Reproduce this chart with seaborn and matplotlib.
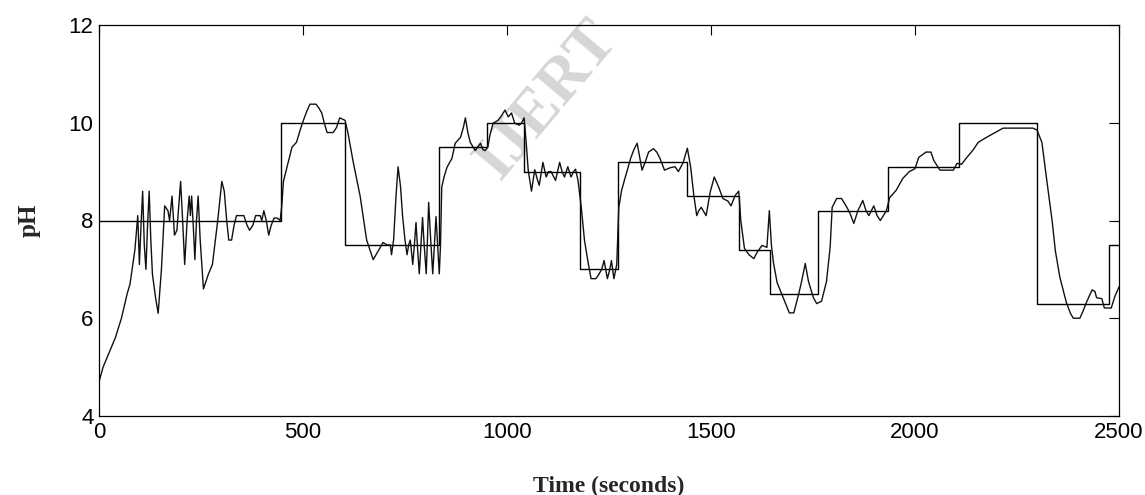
import matplotlib
matplotlib.use("Agg")
import matplotlib.pyplot as plt
import seaborn as sns
import pandas as pd

# ==== data ====
# setpoint (step changes), value holds until next time
sp_time = [0, 446, 603, 833, 951, 1042, 1179, 1272, 1441, 1569, 1645, 1763,
           1935, 2107, 2300, 2475, 2500]
sp_ph = [8.0, 10.0, 7.5, 9.5, 10.0, 9.0, 7.0, 9.2, 8.5, 7.4, 6.5, 8.2,
         9.1, 10.0, 6.3, 7.5, 7.5]

# measured pH response
resp_time = [
    0, 10, 25, 40, 55, 69, 76, 88, 95, 99, 103, 107, 111, 115, 119, 123, 127,
    131, 139, 145, 153, 161, 169, 173, 179, 185, 191, 200, 205, 210, 216, 221,
    224, 227, 231, 235, 239, 243, 248, 256, 268, 278, 291, 301, 307, 313, 318,
    325, 331, 337, 347, 355, 363, 369, 377, 384, 395, 399, 404, 410, 416, 422,
    429, 437, 444, 448, 452, 461, 473, 484, 493, 501, 510, 517, 532, 539, 546,
    552, 559, 574, 582, 590, 603, 610, 623, 640, 656, 664, 672, 679, 686, 696,
    706, 714, 717, 722, 728, 733, 739, 744, 750, 755, 759, 763, 769, 773, 777,
    781, 785, 789, 793, 797, 802, 805, 808, 813, 818, 822, 826, 830, 834, 837,
    840, 846, 853, 865, 873, 886, 893, 898, 904, 910, 922, 928, 935, 941, 946,
    953, 958, 966, 978, 987, 995, 1003, 1011, 1019, 1030, 1036, 1042, 1047,
    1052, 1060, 1068, 1074, 1079, 1088, 1096, 1102, 1108, 1119, 1129, 1135,
    1141, 1149, 1157, 1163, 1168, 1174, 1182, 1190, 1198, 1206, 1218, 1226,
    1232, 1238, 1242, 1246, 1252, 1256, 1262, 1269, 1274, 1281, 1290, 1303,
    1311, 1319, 1325, 1331, 1339, 1347, 1359, 1367, 1375, 1386, 1400, 1412,
    1420, 1432, 1442, 1450, 1458, 1465, 1470, 1476, 1488, 1498, 1508, 1519,
    1529, 1541, 1549, 1559, 1568, 1573, 1582, 1593, 1605, 1613, 1625, 1637,
    1643, 1648, 1653, 1662, 1678, 1692, 1703, 1715, 1722, 1731, 1739, 1751,
    1759, 1771, 1783, 1792, 1797, 1808, 1820, 1833, 1841, 1850, 1860, 1872,
    1880, 1887, 1899, 1907, 1915, 1930, 1938, 1954, 1970, 1986, 2000, 2009,
    2027, 2039, 2046, 2061, 2094, 2103, 2114, 2128, 2143, 2155, 2175, 2192,
    2203, 2216, 2289, 2299, 2311, 2323, 2336, 2344, 2355, 2371, 2381, 2388,
    2404, 2412, 2420, 2434, 2441, 2445, 2458, 2464, 2481, 2490, 2500,
]
resp_ph = [
    4.7, 5.0, 5.3, 5.6, 6.0, 6.5, 6.7, 7.4, 8.1, 7.1, 7.9, 8.6, 7.5, 7.0, 7.9,
    8.6, 7.6, 6.9, 6.4, 6.1, 7.0, 8.3, 8.2, 8.0, 8.5, 7.7, 7.8, 8.8, 8.0, 7.1,
    8.0, 8.5, 8.1, 8.5, 7.9, 7.2, 8.0, 8.5, 7.6, 6.6, 6.9, 7.1, 8.0, 8.8, 8.6,
    8.0, 7.6, 7.6, 7.9, 8.1, 8.1, 8.1, 7.9, 7.8, 7.9, 8.1, 8.1, 8.0, 8.2, 8.0,
    7.7, 7.9, 8.05, 8.05, 8.0, 8.3, 8.8, 9.1, 9.5, 9.6, 9.85, 10.05, 10.25,
    10.38, 10.38, 10.3, 10.2, 10.0, 9.8, 9.8, 9.9, 10.1, 10.05, 9.8, 9.2, 8.5,
    7.6, 7.4, 7.2, 7.3, 7.4, 7.55, 7.5, 7.5, 7.3, 7.6, 8.5, 9.1, 8.7, 8.1, 7.6,
    7.3, 7.5, 7.6, 7.1, 7.5, 7.96, 7.4, 6.91, 7.5, 8.06, 7.5, 6.91, 7.6, 8.37,
    7.6, 6.91, 7.5, 8.08, 7.5, 6.91, 7.5, 8.68, 8.9, 9.09, 9.27, 9.58, 9.7,
    9.9, 10.1, 9.8, 9.6, 9.43, 9.5, 9.58, 9.45, 9.43, 9.5, 9.74, 9.99, 10.05,
    10.15, 10.26, 10.12, 10.2, 9.99, 9.95, 10.0, 10.1, 9.6, 9.03, 8.6, 9.04,
    8.85, 8.72, 9.19, 8.89, 9.0, 9.0, 8.82, 9.19, 9.0, 8.89, 9.1, 8.89, 9.0,
    9.05, 8.82, 8.27, 7.59, 7.18, 6.81, 6.81, 6.91, 7.0, 7.18, 7.0, 6.81, 7.0,
    7.18, 6.81, 7.1, 8.27, 8.62, 8.89, 9.27, 9.45, 9.58, 9.3, 9.03, 9.2, 9.4,
    9.47, 9.4, 9.27, 9.03, 9.08, 9.1, 9.0, 9.19, 9.48, 9.1, 8.51, 8.1, 8.2,
    8.27, 8.1, 8.58, 8.89, 8.68, 8.45, 8.4, 8.3, 8.51, 8.6, 8.0, 7.43, 7.3,
    7.22, 7.35, 7.49, 7.45, 8.2, 7.5, 7.14, 6.73, 6.4, 6.11, 6.11, 6.5, 6.75,
    7.12, 6.75, 6.42, 6.3, 6.35, 6.75, 7.45, 8.27, 8.45, 8.45, 8.27, 8.14,
    7.94, 8.2, 8.41, 8.2, 8.1, 8.3, 8.1, 8.0, 8.2, 8.47, 8.62, 8.86, 9.0,
    9.06, 9.29, 9.4, 9.4, 9.23, 9.03, 9.03, 9.17, 9.15, 9.3, 9.45, 9.6, 9.7,
    9.78, 9.83, 9.89, 9.89, 9.85, 9.6, 8.82, 8.0, 7.38, 6.84, 6.32, 6.1, 6.0,
    6.0, 6.15, 6.32, 6.58, 6.55, 6.42, 6.4, 6.21, 6.21, 6.45, 6.64,
]

x_ticks = [0, 500, 1000, 1500, 2000, 2500]
y_ticks = [4, 6, 8, 10, 12]

# ==== plot ====
sns.set_style("white")
plt.rcParams["font.family"] = ["Liberation Sans", "DejaVu Sans"]

sp_df = pd.DataFrame({"t": sp_time, "ph": sp_ph})
resp_df = pd.DataFrame({"t": resp_time, "ph": resp_ph})

fig = plt.figure(figsize=(11.45, 4.95), dpi=100)
ax = fig.add_axes([99 / 1145, 1 - 416 / 495, 1020 / 1145, 391 / 495])

sns.lineplot(data=sp_df, x="t", y="ph", ax=ax, color="black", lw=1.0,
             drawstyle="steps-post", estimator=None, sort=False)
sns.lineplot(data=resp_df, x="t", y="ph", ax=ax, color="#111111", lw=1.0,
             estimator=None, sort=False)

ax.set_xlim(0, 2500)
ax.set_ylim(4, 12)
ax.set_xticks(x_ticks)
ax.set_yticks(y_ticks)
ax.tick_params(direction="in", length=7, width=0.8, top=True, right=True,
               labelsize=16, pad=4, colors="black")
for s in ax.spines.values():
    s.set_visible(True)
    s.set_color("black")
    s.set_linewidth(0.9)

ax.set_xlabel("Time (seconds)", fontsize=17, fontweight="bold",
              family="Liberation Serif", labelpad=24)
ax.set_ylabel("pH", fontsize=18, fontweight="bold",
              family="Liberation Serif", labelpad=20)

# faint watermark behind the curves
ax.text(548 / 1145, 1 - 100 / 495, "IJERT", transform=fig.transFigure,
        fontsize=46, fontweight="bold", family="Liberation Serif",
        color="#d6d6d6", rotation=50, ha="center", va="center",
        clip_on=False, zorder=0)

fig.savefig("out.png", dpi=100, facecolor="white")
